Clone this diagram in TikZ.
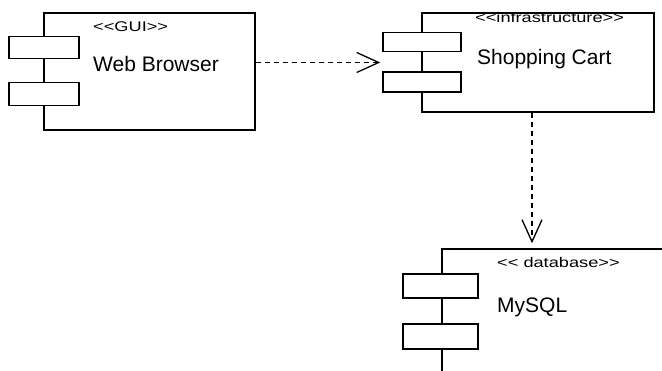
\documentclass[tikz,border=0pt]{standalone}
\usepackage{fontspec}
\setmainfont{Liberation Sans}
\newfontfamily\stereofont[FakeStretch=1.3]{Liberation Sans}
\usetikzlibrary{calc}
\usetikzlibrary{positioning}
\usetikzlibrary{arrows.meta}
\tikzstyle{compnode} = [draw, rectangle, line width=1.5pt, fill=white, inner sep=0]
\tikzstyle{portnode} = [draw, rectangle, line width=1.5pt, fill=white, inner sep=0]
\tikzstyle{stereo} = [inner sep=0, anchor=base west, font=\stereofont\fontsize{14}{16}\selectfont]
\tikzstyle{compname} = [inner sep=0, anchor=base west, font=\fontsize{21}{24}\selectfont]
\tikzstyle{dep} = [line width=1.5pt, dash pattern=on 5pt off 4pt, -{Straight Barb[length=22pt, width=20pt, line width=1.3pt]}]

\begin{document}
\begin{tikzpicture}[x=1pt, y=-1pt]
  \useasboundingbox (0,0) rectangle (662,371);
  \clip (0,0) rectangle (662,371);

  \node[compnode, minimum width=211pt, minimum height=117pt] (web) at (149.5,71.5) {};
  \node[portnode, minimum width=70pt, minimum height=22pt] (web_p1) at (44,47.5) {};
  \node[portnode, minimum width=70pt, minimum height=23pt] (web_p2) at (44,94) {};
  \node[stereo] (web_st) at (93,32) {<<GUI>>};
  \node[compname] (web_name) at (93,72) {Web Browser};

  \node[compnode, minimum width=232pt, minimum height=99pt] (cart) at (538,62.5) {};
  \node[portnode, minimum width=78pt, minimum height=19pt] (cart_p1) at (422,42) {};
  \node[portnode, minimum width=78pt, minimum height=20pt] (cart_p2) at (422,82) {};
  \node[stereo] (cart_st) at (475,23) {<<infrastructure>>};
  \node[compname] (cart_name) at (477,65) {Shopping Cart};

  \node[compnode, minimum width=258pt, minimum height=171pt] (mysql) at (571,334.5) {};
  \node[portnode, minimum width=75pt, minimum height=24pt] (mysql_p1) at (440.5,286) {};
  \node[portnode, minimum width=75pt, minimum height=25pt] (mysql_p2) at (440.5,336.5) {};
  \node[stereo] (mysql_st) at (497,268) {<< database>>};
  \node[compname] (mysql_name) at (497,313) {MySQL};


  \draw[dep, shorten >=2pt] (web.east |- cart.west) -- (cart_p1.west |- cart.west);
  \draw[dep, shorten >=5pt] ($(cart.south)+(-6,0)$) -- ($(mysql.north -| cart.south)+(-6,0)$);
\end{tikzpicture}
\end{document}
